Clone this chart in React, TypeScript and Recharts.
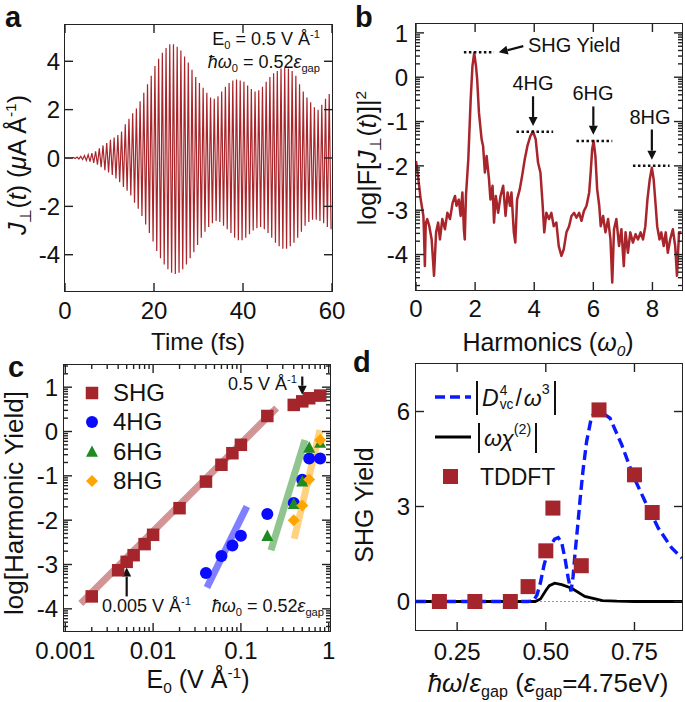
import React from "react";
import { ComposedChart, Line, Scatter, XAxis, YAxis, ReferenceLine } from "recharts";

const FONT = '"Liberation Sans", Arial, Helvetica, sans-serif';
const RED = "#a8262b";
const INK = "#222";

// panel a: peak values of J(t), one upper and one lower peak per SHG cycle
const J_PERIOD = 60 / 72; // fs
const J_UPPER = [0.01, 0.01, 0.02, 0.04, 0.07, 0.1, 0.14, 0.2, 0.28, 0.4, 0.52, 0.62, 0.75, 0.85, 0.95, 1.1, 1.4, 1.62, 1.85, 2.05, 2.35, 2.7, 3.05, 3.4, 3.8, 4.1, 4.35, 4.55, 4.7, 4.7, 4.6, 4.45, 4.2, 3.95, 3.65, 3.35, 3.1, 2.9, 2.7, 2.5, 2.45, 2.55, 2.75, 2.95, 3.1, 3.2, 3.25, 3.2, 3.15, 3.0, 2.85, 2.75, 2.8, 2.95, 3.15, 3.35, 3.5, 3.6, 3.7, 3.72, 3.7, 3.6, 3.4, 3.05, 2.75, 2.5, 2.3, 2.1, 2.0, 2.2, 2.45, 2.65];
const J_LOWER = [-0.01, -0.01, -0.02, -0.04, -0.06, -0.1, -0.15, -0.2, -0.28, -0.38, -0.5, -0.6, -0.7, -0.85, -1.0, -1.2, -1.35, -1.55, -1.85, -2.1, -2.4, -2.75, -3.1, -3.45, -3.85, -4.15, -4.4, -4.6, -4.75, -4.8, -4.75, -4.6, -4.4, -4.15, -3.9, -3.6, -3.3, -3.05, -2.85, -2.7, -2.6, -2.65, -2.8, -2.95, -3.1, -3.3, -3.4, -3.4, -3.3, -3.15, -3.0, -2.9, -2.85, -2.95, -3.1, -3.3, -3.5, -3.65, -3.75, -3.75, -3.65, -3.5, -3.3, -3.05, -2.8, -2.65, -2.55, -2.55, -2.6, -2.7, -2.85, -2.95];

// panel b: spectrum
const HARMONIC = [0, 0.08, 0.16, 0.25, 0.27, 0.3, 0.33, 0.38, 0.45, 0.53, 0.61, 0.68, 0.75, 0.81, 0.89, 0.98, 1.06, 1.15, 1.24, 1.32, 1.37, 1.45, 1.51, 1.57, 1.62, 1.65, 1.69, 1.77, 1.85, 1.91, 1.97, 2.03, 2.07, 2.13, 2.22, 2.27, 2.33, 2.39, 2.47, 2.52, 2.59, 2.64, 2.7, 2.78, 2.86, 2.95, 3.03, 3.1, 3.18, 3.23, 3.31, 3.36, 3.42, 3.51, 3.59, 3.68, 3.77, 3.87, 3.96, 4.05, 4.13, 4.21, 4.28, 4.34, 4.41, 4.5, 4.58, 4.66, 4.75, 4.83, 4.92, 5.0, 5.09, 5.18, 5.26, 5.35, 5.43, 5.52, 5.6, 5.68, 5.77, 5.86, 5.91, 5.96, 6.01, 6.07, 6.13, 6.2, 6.25, 6.33, 6.41, 6.5, 6.58, 6.64, 6.7, 6.78, 6.87, 6.95, 7.03, 7.09, 7.17, 7.25, 7.34, 7.43, 7.51, 7.6, 7.68, 7.76, 7.83, 7.91, 7.98, 8.04, 8.11, 8.16, 8.24, 8.3, 8.38, 8.45, 8.52, 8.6, 8.69, 8.77, 8.83, 8.9, 8.98];
const LOG_F = [-1.89, -2.3, -2.76, -3.13, -3.5, -4.26, -3.3, -3.2, -3.36, -3.66, -4.48, -3.5, -3.28, -3.66, -3.2, -3.43, -3.06, -3.2, -2.83, -2.68, -2.9, -2.76, -3.13, -2.6, -3.43, -3.66, -2.68, -1.85, -0.5, 0.25, 0.55, 0.25, -0.05, -0.8, -1.4, -1.55, -2.15, -1.78, -2.3, -2.76, -2.45, -3.28, -2.68, -3.06, -2.68, -2.45, -3.13, -2.6, -2.9, -2.6, -3.5, -3.73, -2.76, -2.53, -2.23, -1.85, -1.55, -1.33, -1.22, -1.4, -1.93, -2.15, -2.83, -3.5, -3.06, -3.2, -3.06, -3.36, -3.28, -3.81, -4.03, -3.88, -3.5, -3.36, -3.13, -3.06, -3.17, -3.06, -3.24, -3.02, -2.9, -2.6, -2.15, -1.63, -1.44, -1.78, -2.53, -2.9, -3.36, -3.13, -3.5, -3.2, -3.66, -4.63, -3.43, -3.2, -3.81, -3.43, -4.26, -3.5, -3.96, -3.5, -3.73, -3.54, -3.66, -3.5, -3.66, -3.36, -2.76, -2.3, -2.04, -2.3, -2.9, -3.36, -3.66, -3.5, -3.81, -3.5, -3.96, -3.66, -3.43, -3.81, -4.48, -3.5, -3.5];

// panel c: harmonic yields vs field
const SHG_E = [0.002, 0.004, 0.005, 0.006, 0.008, 0.01, 0.02, 0.04, 0.06, 0.08, 0.1, 0.2, 0.4, 0.5, 0.6, 0.8];
const SHG_Y = [-3.72, -3.13, -2.94, -2.79, -2.54, -2.33, -1.73, -1.13, -0.75, -0.49, -0.3, 0.35, 0.6, 0.68, 0.75, 0.81];
const HG4_E = [0.04, 0.06, 0.08, 0.1, 0.2, 0.4, 0.5, 0.6, 0.8];
const HG4_Y = [-3.19, -2.81, -2.57, -2.35, -1.86, -1.61, -1.09, -0.61, -0.61];
const HG6_E = [0.2, 0.4, 0.5, 0.6, 0.8];
const HG6_Y = [-2.36, -1.64, -1.13, -0.37, -0.26];
const HG8_E = [0.4, 0.5, 0.6, 0.8];
const HG8_Y = [-2.0, -1.67, -1.08, -0.19];
// power-law fit bands (end points)
const FIT_SHG_E = [0.0015, 0.255];
const FIT_SHG_Y = [-3.88, 0.53];
const FIT_4_E = [0.041, 0.117];
const FIT_4_Y = [-3.52, -1.69];
const FIT_6_E = [0.22, 0.537];
const FIT_6_Y = [-2.68, -0.19];
const FIT_8_E = [0.405, 0.796];
const FIT_8_Y = [-2.42, 0.03];

// panel d: SHG yield vs photon energy
const TD_X = [0.2, 0.3, 0.4, 0.45, 0.5, 0.52, 0.6, 0.65, 0.75, 0.8];
const TD_Y = [0, 0, 0, 0.47, 1.6, 2.95, 1.13, 6.05, 4.0, 2.81];
const DVC_X = [0.134, 0.3, 0.45, 0.465, 0.475, 0.485, 0.495, 0.505, 0.515, 0.525, 0.535, 0.545, 0.555, 0.563, 0.571, 0.577, 0.582, 0.59, 0.597, 0.605, 0.615, 0.629, 0.648, 0.681, 0.714, 0.747, 0.78, 0.817, 0.855, 0.884];
const DVC_Y = [0, 0, 0, 0.02, 0.2, 0.6, 1.15, 1.55, 1.8, 1.97, 2.02, 1.85, 1.3, 0.75, 0.32, 0.8, 1.47, 2.4, 3.26, 4.15, 5.05, 5.84, 6.05, 5.79, 4.95, 3.95, 3.16, 2.32, 1.69, 1.37];
const CHI_X = [0.134, 0.47, 0.485, 0.5, 0.51, 0.525, 0.545, 0.573, 0.61, 0.66, 0.7, 0.75, 0.884];
const CHI_Y = [0, 0, 0.08, 0.35, 0.5, 0.58, 0.53, 0.42, 0.16, 0.03, 0.01, 0, 0];

const pts = (xs: number[], ys: number[]) => xs.map((x, i) => ({ x, y: ys[i] }));

const YW = 60;
const XH = 40;
const MT = 10;

const logMinor = (lo: number, hi: number) => {
  const out: number[] = [];
  for (let n = Math.floor(lo) - 1; n <= Math.ceil(hi); n++)
    for (let k = 2; k <= 9; k++) {
      const v = n + Math.log10(k);
      if (v > lo && v < hi) out.push(v);
    }
  return out;
};
const decadeMinor = (lo: number, hi: number) => {
  const out: number[] = [];
  for (let n = -4; n <= 0; n++)
    for (let k = 2; k <= 9; k++) {
      const v = k * Math.pow(10, n);
      if (v > lo && v < hi) out.push(v);
    }
  return out;
};

const isMajor = (majors: number[], v: number) => majors.some((m) => Math.abs(m - v) < 1e-9 * Math.max(1, Math.abs(m)));

// inward ticks on both sides, labels only on major ticks
const xTick = (majors: number[], fmt: (v: number) => string, span: number, gap: number) => (p: any) => {
  const v = p.payload.value;
  const major = isMajor(majors, v);
  const len = major ? 8 : 4;
  const base = p.y - gap;
  return (
    <g>
      <line x1={p.x} x2={p.x} y1={base} y2={base - len} stroke={INK} strokeWidth={1.4} />
      <line x1={p.x} x2={p.x} y1={base - span} y2={base - span + len} stroke={INK} strokeWidth={1.4} />
      {major && (
        <text x={p.x} y={p.y} dy="0.72em" textAnchor="middle" fontSize={24} fontFamily={FONT} fill="#111">
          {fmt(v)}
        </text>
      )}
    </g>
  );
};
const yTick = (majors: number[], fmt: (v: number) => string, span: number, gap: number) => (p: any) => {
  const v = p.payload.value;
  const major = isMajor(majors, v);
  const len = major ? 8 : 4;
  const base = p.x + gap;
  return (
    <g>
      <line x1={base} x2={base + len} y1={p.y} y2={p.y} stroke={INK} strokeWidth={1.4} />
      <line x1={base + span} x2={base + span - len} y1={p.y} y2={p.y} stroke={INK} strokeWidth={1.4} />
      {major && (
        <text x={p.x} y={p.y} dy="0.36em" textAnchor="end" fontSize={24} fontFamily={FONT} fill="#111">
          {fmt(v)}
        </text>
      )}
    </g>
  );
};

const arrowShape = (p: any) => {
  const { x1, y1, x2, y2 } = p;
  const dx = x2 - x1;
  const dy = y2 - y1;
  const l = Math.hypot(dx, dy) || 1;
  const ux = dx / l;
  const uy = dy / l;
  const bx = x2 - ux * 9;
  const by = y2 - uy * 9;
  return (
    <g>
      <line x1={x1} y1={y1} x2={bx} y2={by} stroke="#111" strokeWidth={2.2} />
      <polygon points={`${x2},${y2} ${bx - uy * 4.5},${by + ux * 4.5} ${bx + uy * 4.5},${by - ux * 4.5}`} fill="#111" />
    </g>
  );
};

const square = (s: number, fill: string) => (p: any) => <rect x={p.cx - s / 2} y={p.cy - s / 2} width={s} height={s} fill={fill} />;
const circle = (d: number, fill: string) => (p: any) => <circle cx={p.cx} cy={p.cy} r={d / 2} fill={fill} />;
const triangle = (s: number, fill: string) => (p: any) => (
  <polygon points={`${p.cx},${p.cy - s * 0.55} ${p.cx - s / 2},${p.cy + s * 0.4} ${p.cx + s / 2},${p.cy + s * 0.4}`} fill={fill} />
);
const diamond = (s: number, fill: string) => (p: any) => (
  <polygon points={`${p.cx},${p.cy - s / 2} ${p.cx + s / 2},${p.cy} ${p.cx},${p.cy + s / 2} ${p.cx - s / 2},${p.cy}`} fill={fill} />
);

const Sub = ({ children }: any) => <span style={{ fontSize: "0.62em", position: "relative", top: "0.32em" }}>{children}</span>;
const Sup = ({ children }: any) => <span style={{ fontSize: "0.62em", position: "relative", top: "-0.62em" }}>{children}</span>;

function Txt({ x, y, size = 18, anchor = "middle", rotate = 0, bold = false, children }: any) {
  const tx = anchor === "middle" ? "-50%" : anchor === "end" ? "-100%" : "0";
  return (
    <div
      style={{
        position: "absolute",
        left: x,
        top: y,
        transform: `translate(${tx}, -50%)` + (rotate ? ` rotate(${rotate}deg)` : ""),
        fontSize: size,
        fontWeight: bold ? 700 : 400,
        lineHeight: 1,
        whiteSpace: "nowrap",
        color: "#111",
      }}
    >
      {children}
    </div>
  );
}

function Panel({ L, T, W, H, mr, children }: any) {
  return (
    <div style={{ position: "absolute", left: L - YW, top: T - MT, width: YW + W + mr, height: MT + H + XH }}>
      {children}
      <div
        style={{
          position: "absolute",
          left: YW - 0.75,
          top: MT - 0.75,
          width: W + 1.5,
          height: H + 1.5,
          border: `1.5px solid ${INK}`,
          boxSizing: "border-box",
          pointerEvents: "none",
        }}
      />
    </div>
  );
}

const chartProps = (W: number, H: number, mr: number) => ({
  width: YW + W + mr,
  height: MT + H + XH,
  margin: { top: MT, right: mr, left: 0, bottom: 0 },
});

function PanelA() {
  const W = 267;
  const H = 266;
  const mr = 20;
  const data = [{ t: 0, j: 0 }];
  J_UPPER.forEach((u, k) => {
    data.push({ t: J_PERIOD * (k + 0.25), j: u });
    data.push({ t: J_PERIOD * (k + 0.75), j: J_LOWER[k] });
  });
  return (
    <Panel L={65} T={25} W={W} H={H} mr={mr}>
      <ComposedChart {...chartProps(W, H, mr)} data={data}>
        <XAxis dataKey="t" type="number" domain={[0, 60]} allowDataOverflow ticks={[0, 20, 40, 60]} interval={0} height={XH} tickSize={0} tickMargin={11} axisLine={false} tick={xTick([0, 20, 40, 60], String, H, 11)} />
        <YAxis type="number" domain={[-5.5, 5.5]} allowDataOverflow ticks={[-4, -2, 0, 2, 4]} interval={0} width={YW} tickSize={0} tickMargin={5} axisLine={false} tick={yTick([-4, -2, 0, 2, 4], String, W, 5)} />
        <Line dataKey="j" stroke={RED} strokeWidth={1.2} dot={false} isAnimationActive={false} />
      </ComposedChart>
    </Panel>
  );
}

function PanelB() {
  const W = 266;
  const H = 266;
  const mr = 3;
  const data = HARMONIC.map((h, i) => ({ h, v: LOG_F[i] }));
  const yMajor = [-4, -3, -2, -1, 0, 1];
  const yTicks = [...yMajor, ...logMinor(-4.8, 1.2)];
  const dots = { stroke: "#111", strokeWidth: 2.5, strokeDasharray: "2.5 2.5" };
  return (
    <Panel L={416} T={24} W={W} H={H} mr={mr}>
      <ComposedChart {...chartProps(W, H, mr)} data={data}>
        <XAxis dataKey="h" type="number" domain={[0, 9]} allowDataOverflow ticks={[0, 2, 4, 6, 8]} interval={0} height={XH} tickSize={0} tickMargin={10} axisLine={false} tick={xTick([0, 2, 4, 6, 8], String, H, 10)} />
        <YAxis type="number" domain={[-4.8, 1.2]} allowDataOverflow ticks={yTicks} interval={0} width={YW} tickSize={0} tickMargin={8} axisLine={false} tick={yTick(yMajor, String, W, 8)} />
        <Line dataKey="v" stroke={RED} strokeWidth={2.5} strokeLinejoin="round" dot={false} isAnimationActive={false} />
        <ReferenceLine segment={[{ x: 1.62, y: 0.56 }, { x: 2.64, y: 0.56 }]} {...dots} />
        <ReferenceLine segment={[{ x: 3.4, y: -1.23 }, { x: 4.64, y: -1.23 }]} {...dots} />
        <ReferenceLine segment={[{ x: 5.43, y: -1.44 }, { x: 6.64, y: -1.44 }]} {...dots} />
        <ReferenceLine segment={[{ x: 7.34, y: -2.0 }, { x: 8.58, y: -2.0 }]} {...dots} />
        <ReferenceLine segment={[{ x: 3.63, y: 0.7 }, { x: 2.8, y: 0.56 }]} shape={arrowShape} />
        <ReferenceLine segment={[{ x: 3.96, y: -0.43 }, { x: 3.96, y: -1.1 }]} shape={arrowShape} />
        <ReferenceLine segment={[{ x: 6.0, y: -0.66 }, { x: 6.0, y: -1.3 }]} shape={arrowShape} />
        <ReferenceLine segment={[{ x: 7.98, y: -1.18 }, { x: 7.98, y: -1.86 }]} shape={arrowShape} />
      </ComposedChart>
    </Panel>
  );
}

function PanelC() {
  const W = 266;
  const H = 266;
  const mr = 20;
  const dom = [0.000966, 1.035];
  const xMajor = [0.001, 0.01, 0.1, 1];
  const xTicks = [...xMajor, ...decadeMinor(dom[0], dom[1])];
  const yMajor = [-4, -3, -2, -1, 0, 1];
  const yTicks = [...yMajor, ...logMinor(-4.5, 1.5)];
  const band = { dot: false, isAnimationActive: false, strokeWidth: 7, strokeOpacity: 0.5, dataKey: "y" };
  return (
    <Panel L={64} T={365} W={W} H={H} mr={mr}>
      <ComposedChart {...chartProps(W, H, mr)}>
        <XAxis dataKey="x" type="number" scale="log" domain={dom} allowDataOverflow ticks={xTicks} interval={0} height={XH} tickSize={0} tickMargin={11} axisLine={false} tick={xTick(xMajor, String, H, 11)} />
        <YAxis type="number" domain={[-4.5, 1.5]} allowDataOverflow ticks={yTicks} interval={0} width={YW} tickSize={0} tickMargin={6} axisLine={false} tick={yTick(yMajor, String, W, 6)} />
        <Line data={pts(FIT_SHG_E, FIT_SHG_Y)} stroke="#a52a2a" {...band} />
        <Scatter data={pts(SHG_E, SHG_Y)} dataKey="y" shape={square(12.5, "#a4262c")} isAnimationActive={false} />
        <Line data={pts(FIT_4_E, FIT_4_Y)} stroke="#0000ff" {...band} />
        <Scatter data={pts(HG4_E, HG4_Y)} dataKey="y" shape={circle(12, "#0a0aff")} isAnimationActive={false} />
        <Line data={pts(FIT_6_E, FIT_6_Y)} stroke="#228b22" {...band} />
        <Scatter data={pts(HG6_E, HG6_Y)} dataKey="y" shape={triangle(12, "#1f8a1f")} isAnimationActive={false} />
        <Line data={pts(FIT_8_E, FIT_8_Y)} stroke="#ffa500" {...band} />
        <Scatter data={pts(HG8_E, HG8_Y)} dataKey="y" shape={diamond(12, "#ffa500")} isAnimationActive={false} />
        <ReferenceLine segment={[{ x: 0.5, y: 1.24 }, { x: 0.5, y: 0.83 }]} shape={arrowShape} />
        <ReferenceLine segment={[{ x: 0.005, y: -3.72 }, { x: 0.005, y: -3.07 }]} shape={arrowShape} />
      </ComposedChart>
    </Panel>
  );
}

function PanelD() {
  const W = 266;
  const H = 266;
  const mr = 3;
  return (
    <Panel L={416} T={364} W={W} H={H} mr={mr}>
      <ComposedChart {...chartProps(W, H, mr)}>
        <XAxis dataKey="x" type="number" domain={[0.134, 0.884]} allowDataOverflow ticks={[0.25, 0.5, 0.75]} interval={0} height={XH} tickSize={0} tickMargin={13} axisLine={false} tick={xTick([0.25, 0.5, 0.75], (v) => v.toFixed(2), H, 13)} />
        <YAxis type="number" domain={[-0.9, 7.5]} allowDataOverflow ticks={[0, 3, 6]} interval={0} width={YW} tickSize={0} tickMargin={6} axisLine={false} tick={yTick([0, 3, 6], String, W, 6)} />
        <ReferenceLine y={0} stroke="#999" strokeWidth={1} strokeDasharray="2 2" />
        <Line data={pts(CHI_X, CHI_Y)} dataKey="y" stroke="#000" strokeWidth={2.8} dot={false} isAnimationActive={false} />
        <Line data={pts(DVC_X, DVC_Y)} dataKey="y" stroke="#0a1aff" strokeWidth={3.4} strokeDasharray="10 5" dot={false} isAnimationActive={false} />
        <Scatter data={pts(TD_X, TD_Y)} dataKey="y" shape={square(15, "#a4262c")} isAnimationActive={false} />
      </ComposedChart>
    </Panel>
  );
}

const LegendMark = ({ children }: any) => (
  <svg width={16} height={16} style={{ position: "absolute", left: -8, top: -8 }}>
    {children}
  </svg>
);

function LegendC() {
  const rows = [
    { y: 393, label: "SHG", mark: <rect x={1.75} y={1.75} width={12.5} height={12.5} fill="#a4262c" /> },
    { y: 422, label: "4HG", mark: <circle cx={8} cy={8} r={6} fill="#0a0aff" /> },
    { y: 452, label: "6HG", mark: <polygon points="8,1.4 2,12.8 14,12.8" fill="#1f8a1f" /> },
    { y: 481, label: "8HG", mark: <polygon points="8,2 14,8 8,14 2,8" fill="#ffa500" /> },
  ];
  return (
    <>
      {rows.map((r) => (
        <React.Fragment key={r.label}>
          <div style={{ position: "absolute", left: 92, top: r.y }}>
            <LegendMark>{r.mark}</LegendMark>
          </div>
          <Txt x={113} y={r.y} size={24} anchor="start">
            {r.label}
          </Txt>
        </React.Fragment>
      ))}
    </>
  );
}

const Abs = ({ children, height = 34 }: any) => (
  <span
    style={{
      display: "inline-flex",
      alignItems: "center",
      height,
      borderLeft: "2px solid #111",
      borderRight: "2px solid #111",
      padding: "0 4px",
    }}
  >
    {children}
  </span>
);

function LegendD() {
  return (
    <>
      <svg width={40} height={100} style={{ position: "absolute", left: 433, top: 385 }}>
        <line x1={2} x2={38} y1={12} y2={12} stroke="#0a1aff" strokeWidth={3.4} strokeDasharray="10 5" />
        <line x1={2} x2={38} y1={52} y2={52} stroke="#000" strokeWidth={2.8} />
        <rect x={10} y={84} width={15} height={15} fill="#a4262c" />
      </svg>
      <Txt x={476} y={398} size={23} anchor="start">
        <Abs>
          <i>D</i>
          <span style={{ display: "inline-flex", flexDirection: "column", fontSize: "0.6em", lineHeight: 1.05, marginLeft: 1 }}>
            <span>4</span>
            <span>vc</span>
          </span>
          <span style={{ margin: "0 2px" }}>/</span>
          <i>ω</i>
          <Sup>3</Sup>
        </Abs>
      </Txt>
      <Txt x={478} y={438} size={23} anchor="start">
        <Abs height={30}>
          <i>ωχ</i>
          <Sup>(2)</Sup>
        </Abs>
      </Txt>
      <Txt x={480} y={477} size={23} anchor="start">
        TDDFT
      </Txt>
    </>
  );
}

export default function App() {
  return (
    <div style={{ position: "absolute", left: 0, top: 0, width: 685, height: 702, overflow: "hidden", background: "#fff", fontFamily: FONT }}>
      <PanelA />
      <PanelB />
      <PanelC />
      <PanelD />

      <Txt x={5} y={17} size={29} bold anchor="start">a</Txt>
      <Txt x={355} y={17} size={29} bold anchor="start">b</Txt>
      <Txt x={8} y={367} size={29} bold anchor="start">c</Txt>
      <Txt x={353} y={362} size={29} bold anchor="start">d</Txt>

      <Txt x={17} y={165} size={25} rotate={-90}>
        <i>J</i>
        <Sub>⊥</Sub>(<i>t</i>) (<i>μ</i>A Å<Sup>-1</Sup>)
      </Txt>
      <Txt x={198} y={342} size={24}>Time (fs)</Txt>
      <Txt x={367} y={158} size={25} rotate={-90}>
        log|F[<i>J</i>
        <Sub>⊥</Sub>(<i>t</i>)]|<Sup>2</Sup>
      </Txt>
      <Txt x={548} y={342} size={25}>
        Harmonics (<i>ω</i>
        <Sub>
          <i>0</i>
        </Sub>
        )
      </Txt>
      <Txt x={14} y={503} size={26} rotate={-90}>log[Harmonic Yield]</Txt>
      <Txt x={198} y={679} size={25}>
        E<Sub>0</Sub> (V Å<Sup>-1</Sup>)
      </Txt>
      <Txt x={364} y={505} size={25} rotate={-90}>SHG Yield</Txt>
      <Txt x={548} y={683} size={26}>
        <i>ħω</i>/<i>ε</i>
        <Sub>gap</Sub> (<i>ε</i>
        <Sub>gap</Sub>=4.75eV)
      </Txt>

      <Txt x={320} y={39} size={18} anchor="end">
        E<Sub>0</Sub> = 0.5 V Å<Sup>-1</Sup>
      </Txt>
      <Txt x={320} y={62} size={18} anchor="end">
        <i>ħω</i>
        <Sub>0</Sub> = 0.52<i>ε</i>
        <Sub>gap</Sub>
      </Txt>

      <Txt x={528} y={45} size={20} anchor="start">SHG Yield</Txt>
      <Txt x={533} y={83} size={20}>4HG</Txt>
      <Txt x={593} y={93} size={20}>6HG</Txt>
      <Txt x={650} y={117} size={20}>8HG</Txt>

      <Txt x={297} y={384} size={18} anchor="end">
        0.5 V Å<Sup>-1</Sup>
      </Txt>
      <Txt x={102} y={606} size={18} anchor="start">
        0.005 V Å<Sup>-1</Sup>
      </Txt>
      <Txt x={324} y={606} size={18} anchor="end">
        <i>ħω</i>
        <Sub>0</Sub> = 0.52<i>ε</i>
        <Sub>gap</Sub>
      </Txt>

      <LegendC />
      <LegendD />
    </div>
  );
}
